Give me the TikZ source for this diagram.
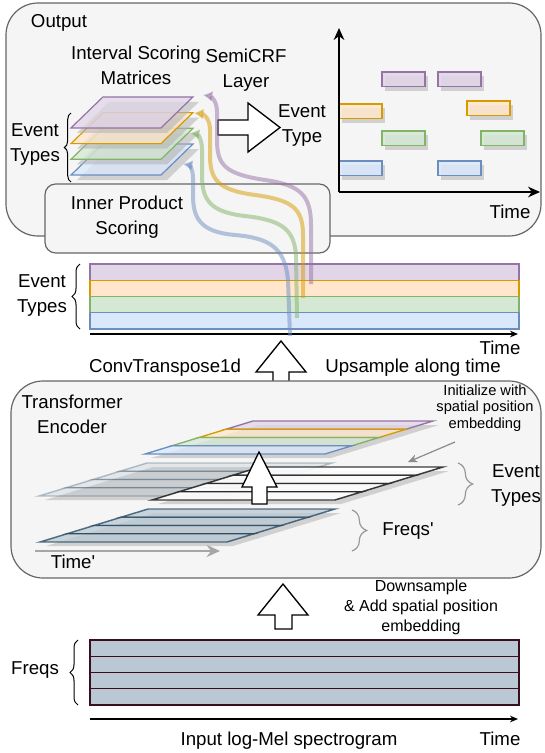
\documentclass[tikz,border=0pt]{standalone}
\usepackage{fontspec}
\setmainfont{Liberation Sans}[Ligatures=TeXOff]
\usetikzlibrary{positioning,arrows.meta,decorations.pathreplacing}

\definecolor{panelfill}{HTML}{F5F5F5}
\definecolor{panelline}{HTML}{666666}
\definecolor{fillpurple}{HTML}{E1D5E7} \definecolor{linepurple}{HTML}{9673A6}
\definecolor{fillorange}{HTML}{FFE6CC} \definecolor{lineorange}{HTML}{D79B00}
\definecolor{fillgreen}{HTML}{D5E8D4}  \definecolor{linegreen}{HTML}{82B366}
\definecolor{fillblue}{HTML}{DAE8FC}   \definecolor{lineblue}{HTML}{6C8EBF}
\definecolor{melfill}{HTML}{BAC8D3}    \definecolor{melline}{HTML}{23445D}
\definecolor{specline}{HTML}{3A0F1C}

\tikzset{
  panel/.style={draw=panelline, fill=panelfill, line width=0.9pt},
  txt/.style={font=\fontsize{14}{18.75}\selectfont, align=center, inner sep=0pt},
  midtxt/.style={font=\fontsize{12}{15}\selectfont, align=center, inner sep=0pt},
  smalltxt/.style={font=\fontsize{11}{12.2}\selectfont, align=center, inner sep=0pt},
  blockarrow/.style={draw=black, fill=white, line width=1pt, line join=miter},
  dropshadow/.style={fill=black!30, fill opacity=0.55},
  flowline/.style={line width=3pt, opacity=0.5, -{Latex[length=7pt, width=8pt]}},
  axis/.style={line width=1.1pt, -{Stealth[length=9pt, width=8pt]}},
  bracel/.style={decorate, decoration={brace, amplitude=#1}, line width=0.75pt},
  bracel/.default=5pt,
  bracer/.style={decorate, decoration={brace, amplitude=11pt}, line width=0.9pt, draw=black!40},
}

\begin{document}
\begin{tikzpicture}[x=0.75pt, y=-0.75pt]
\useasboundingbox (0,0) rectangle (544,753);

% output panel
\draw[panel, rounded corners=24pt] (6,3) rectangle (541,236);
\node[txt] (outlbl) at (59,23) {Output};

% event chart
\coordinate (origin) at (339,192);
\coordinate (ytop) at (339,28);
\coordinate (xend) at (540,192);
\foreach \bx/\by/\bc in {382/72/purple, 438/72/purple, 339/104/orange, 467/101/orange,
                         382/131/green, 481/131/green, 339/161/blue, 438/161/blue} {
  \path[dropshadow] (\bx+3,\by+4) rectangle ++(43,14.5);
  \draw[draw=line\bc, fill=fill\bc, fill opacity=0.85, line width=1pt] (\bx,\by) rectangle ++(43,14.5);
}
\draw[axis] (origin) -- (ytop);
\draw[axis] (origin) -- (xend);
\node[txt] (charttime) at (510,212) {Time};

% interval scoring matrices
\foreach \c [count=\k from 0] in {blue, green, orange, purple} {
  \path[dropshadow] (109,149-15.7*\k) -- ++(90,0) -- ++(-32,31) -- ++(-90,0) -- cycle;
  \draw[draw=line\c, fill=fill\c, fill opacity=0.75, line width=0.9pt]
    (103,144-15.7*\k) -- ++(90,0) -- ++(-32,31) -- ++(-90,0) -- cycle;
}
\draw[bracel] (71,182) -- (71,113);
\node[txt] (outtypes) at (35,145) {Event\\Types};
\node[txt] (ismlbl) at (136,65.5) {Interval Scoring\\Matrices};
\node[txt] (crflbl) at (246,70.5) {SemiCRF\\Layer};
\draw[blockarrow] (218,120) -- (248,120) -- (248,103) -- (280,127.5) -- (248,152) -- (248,135) -- (218,135) -- cycle;
\node[txt] (typelbl) at (302,125.5) {Event\\Type};

% inner product scoring
\draw[panel, rounded corners=8pt] (45,184) rectangle (330,253);
\node[txt] (iplbl) at (127,217.5) {Inner Product\\Scoring};

% event type strips
\foreach \c [count=\k from 0] in {purple, orange, green, blue}
  \draw[draw=line\c, fill=fill\c, line width=1.1pt] (90,264+16.25*\k) rectangle ++(429,16.25);
\coordinate (t0) at (90,334);
\coordinate (t1) at (518,334);
\draw[line width=0.9pt, -{Stealth[length=6pt, width=5pt]}] (t0) -- (t1);
\node[txt] (striptime) at (500,348) {Time};
\draw[bracel=6pt] (80,329) -- (80,264);
\node[txt] (striptypes) at (42,296) {Event\\Types};

% flows from strips to matrices
\coordinate (ps) at (311,284); \coordinate (pe) at (203,95);
\coordinate (os) at (303,298); \coordinate (oe) at (194,113);
\coordinate (gs) at (297,318); \coordinate (ge) at (190,133);
\coordinate (bs) at (290,336); \coordinate (be) at (183,164);
\draw[flowline, linepurple] (ps) -- (311,225) .. controls (311,195) and (300,185) .. (265,180)
  .. controls (225,174) and (217,165) .. (217,140) -- (217,112) .. controls (217,100) and (210,96) .. (pe);
\draw[flowline, lineorange] (os) -- (303,235) .. controls (303,208) and (292,200) .. (255,195)
  .. controls (218,190) and (210,180) .. (210,155) -- (210,130) .. controls (210,118) and (203,114) .. (oe);
\draw[flowline, linegreen] (gs) -- (296,255) .. controls (294,228) and (280,220) .. (245,216)
  .. controls (210,212) and (202,200) .. (202,175) -- (202,150) .. controls (202,138) and (197,134) .. (ge);
\draw[flowline, lineblue] (bs) -- (288,280) .. controls (285,248) and (270,238) .. (235,235)
  .. controls (200,232) and (193,218) .. (193,195) -- (193,178) .. controls (193,169) and (189,165) .. (be);

% upsample arrow
\draw[blockarrow] (273,384) -- (273,372) -- (256,372) -- (281,341) -- (306,372) -- (289,372) -- (289,384) -- cycle;
\node[txt] (convlbl) at (165,368) {ConvTranspose1d};
\node[txt] (uplbl) at (413,368) {Upsample along time};

% transformer encoder
\draw[panel, rounded corners=24pt] (11,381) rectangle (541,578);
\node[txt] (enclbl) at (72,414) {Transformer\\Encoder};
\foreach \c [count=\k from 0] in {purple, orange, green, blue} {
  \path[dropshadow] (259-27*\k,425+8.25*\k) -- ++(180,0) -- ++(-27,8.25) -- ++(-180,0) -- cycle;
  \draw[draw=line\c, fill=fill\c, fill opacity=0.75, line width=1pt]
    (253-27*\k,421+8.25*\k) -- ++(180,0) -- ++(-27,8.25) -- ++(-180,0) -- cycle;
}
\foreach \gx/\gy/\gw/\gf/\gl/\go in {147/463/185/melfill/melline/0.3, 260/467/183/white/black!85/0.9,
                                     148/509/187/melfill/melline/0.75}
  \foreach \k in {0,...,3} {
    \path[dropshadow] (\gx-27*\k+6,\gy+8.25*\k+4) -- ++(\gw,0) -- ++(-27,8.25) -- ++(-\gw,0) -- cycle;
    \draw[draw=\gl, fill=\gf, opacity=\go, line width=1.1pt]
      (\gx-27*\k,\gy+8.25*\k) -- ++(\gw,0) -- ++(-27,8.25) -- ++(-\gw,0) -- cycle;
  }
\draw[blockarrow] (252,504) -- (252,487) -- (242,487) -- (259,452) -- (277,487) -- (267,487) -- (267,504) -- cycle;
\node[smalltxt] (initlbl) at (485,408) {Initialize with\\spatial position\\embedding};
\coordinate (initfrom) at (455,442);
\coordinate (initto) at (408,462);
\draw[black!45, line width=0.9pt, -{Stealth[length=7pt, width=6pt]}] (initfrom) -- (initto);
\draw[bracer] (458,463) -- (458,505);
\node[txt] (enctypes) at (516,486) {Event\\Types};
\draw[bracer] (352,510) -- (352,551);
\node[txt] (freqslbl) at (408,531) {Freqs'};
\coordinate (tp0) at (35,551);
\coordinate (tp1) at (220,551);
\draw[black!35, line width=1.4pt, -{Stealth[length=10pt, width=9pt]}] (tp0) -- (tp1);
\node[txt] (timeplbl) at (73,562) {Time'};

% input spectrogram
\draw[blockarrow] (275,629) -- (275,615) -- (258,615) -- (283,584) -- (308,615) -- (292,615) -- (292,629) -- cycle;
\node[midtxt] (downlbl) at (421,607) {Downsample\\\& Add spatial position\\embedding};
\foreach \k in {0,...,3}
  \draw[draw=specline, fill=melfill, line width=1.1pt] (90,640+16.25*\k) rectangle ++(429,16.25);
\draw[bracel=6pt] (78,705) -- (78,640);
\node[txt] (specfreqs) at (35,670) {Freqs};
\coordinate (s0) at (90,719);
\coordinate (s1) at (518,719);
\draw[line width=0.9pt, -{Stealth[length=6pt, width=5pt]}] (s0) -- (s1);
\node[txt] (speclbl) at (289,741) {Input log-Mel spectrogram};
\node[txt] (spectime) at (500,739) {Time};
\end{tikzpicture}
\end{document}
